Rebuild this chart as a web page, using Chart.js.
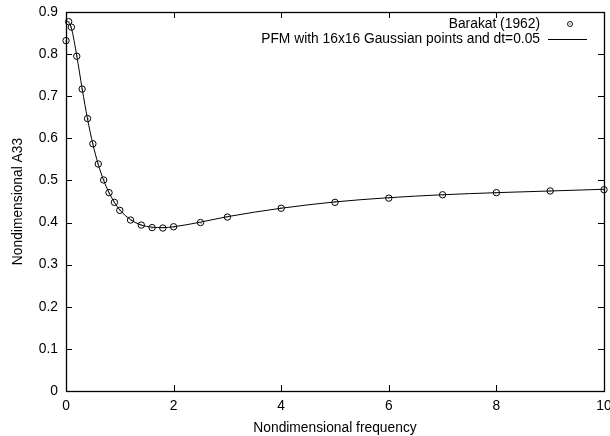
<!DOCTYPE html>
<html>
<head>
<meta charset="utf-8">
<script src="https://cdn.jsdelivr.net/npm/chart.js@4.4.1/dist/chart.umd.min.js"></script>
<style>
  html, body { margin: 0; padding: 0; background: #fff; }
  #wrap { width: 610px; height: 436px; }
</style>
</head>
<body>
<div id="wrap"><canvas id="c" width="610" height="436"></canvas></div>
<script>
// Barakat (1962) measured points
const barakatX = [0, 0.05, 0.1, 0.2, 0.3, 0.4, 0.5, 0.6, 0.7, 0.8, 0.9, 1.0, 1.2, 1.4, 1.6, 1.8, 2.0, 2.5, 3, 4, 5, 6, 7, 8, 9, 10];
const barakatY = [0.832, 0.877, 0.864, 0.795, 0.717, 0.647, 0.587, 0.539, 0.501, 0.471, 0.448, 0.429, 0.406, 0.394, 0.388, 0.387, 0.390, 0.400, 0.413, 0.434, 0.448, 0.458, 0.466, 0.471, 0.475, 0.478];
// PFM curve (16x16 Gaussian points, dt=0.05)
const pfmX = [0, 0.05, 0.1, 0.2, 0.3, 0.4, 0.5, 0.6, 0.7, 0.8, 0.9, 1.0, 1.2, 1.4, 1.6, 1.8, 2.0, 2.5, 3, 4, 5, 6, 7, 8, 9, 10];
const pfmY = [0.882, 0.875, 0.862, 0.796, 0.718, 0.646, 0.586, 0.538, 0.500, 0.471, 0.448, 0.430, 0.407, 0.394, 0.389, 0.388, 0.390, 0.401, 0.414, 0.434, 0.449, 0.459, 0.466, 0.471, 0.475, 0.479];
const xTicks = [0, 2, 4, 6, 8, 10];
const yTicks = [0, 0.1, 0.2, 0.3, 0.4, 0.5, 0.6, 0.7, 0.8, 0.9];
const seriesNames = ['Barakat (1962)', 'PFM with 16x16 Gaussian points and dt=0.05'];
const xTitle = 'Nondimensional frequency';
const yTitle = 'Nondimensional A33';

const FONT = 'Liberation Sans, Arial, Helvetica, sans-serif';
const FS = 13.8;

const framePlugin = {
  id: 'frame',
  afterDatasetsDraw(chart) {
    const ctx = chart.ctx;
    const a = chart.chartArea;
    const xs = chart.scales.x, ys = chart.scales.y;
    ctx.save();
    ctx.strokeStyle = '#000';
    ctx.lineWidth = 1;
    ctx.beginPath();
    const L = 6;
    xTicks.forEach(v => {
      const px = Math.round(xs.getPixelForValue(v)) + 0.5;
      ctx.moveTo(px, a.bottom); ctx.lineTo(px, a.bottom - L);
      ctx.moveTo(px, a.top); ctx.lineTo(px, a.top + L);
    });
    yTicks.forEach(v => {
      const py = Math.round(ys.getPixelForValue(v)) + 0.5;
      ctx.moveTo(a.left, py); ctx.lineTo(a.left + L, py);
      ctx.moveTo(a.right, py); ctx.lineTo(a.right - L, py);
    });
    ctx.stroke();
    ctx.lineWidth = 1.3;
    ctx.strokeRect(Math.round(a.left) + 0.5, Math.round(a.top) + 0.5,
                   Math.round(a.right - a.left), Math.round(a.bottom - a.top));
    // legend
    ctx.font = FS + 'px ' + FONT;
    ctx.fillStyle = '#000';
    ctx.textAlign = 'right';
    ctx.textBaseline = 'middle';
    const tx = a.right - 64;
    const y1 = a.top + 12, y2 = a.top + 27;
    ctx.fillText(seriesNames[0], tx, y1);
    ctx.fillText(seriesNames[1], tx, y2);
    ctx.lineWidth = 0.9;
    ctx.beginPath();
    ctx.arc(a.right - 34, y1, 2.5, 0, Math.PI * 2);
    ctx.stroke();
    ctx.fillRect(a.right - 34.5, y1 - 0.5, 1, 1);
    ctx.lineWidth = 1;
    ctx.beginPath();
    ctx.moveTo(a.right - 56, y2 + 0.5); ctx.lineTo(a.right - 17, y2 + 0.5);
    ctx.stroke();
    ctx.restore();
  }
};

const dotPlugin = {
  id: 'dots',
  afterDatasetsDraw(chart) {
    const ctx = chart.ctx;
    const meta = chart.getDatasetMeta(0);
    ctx.save();
    ctx.fillStyle = '#000';
    meta.data.forEach(p => { ctx.fillRect(Math.round(p.x) - 0.5, Math.round(p.y) - 0.5, 1, 1); });
    ctx.restore();
  }
};

new Chart(document.getElementById('c'), {
  type: 'scatter',
  data: {
    datasets: [
      {
        label: seriesNames[0],
        data: barakatX.map((x, i) => ({ x: x, y: barakatY[i] })),
        showLine: false,
        pointStyle: 'circle',
        pointRadius: 3.2,
        pointBorderWidth: 1,
        pointBorderColor: '#000',
        pointBackgroundColor: 'rgba(0,0,0,0)',
        clip: false,
        order: 0
      },
      {
        label: seriesNames[1],
        data: pfmX.map((x, i) => ({ x: x, y: pfmY[i] })),
        showLine: true,
        borderColor: '#000',
        borderWidth: 1,
        pointRadius: 0,
        cubicInterpolationMode: 'monotone',
        order: 1
      }
    ]
  },
  plugins: [framePlugin, dotPlugin],
  options: {
    responsive: false,
    animation: false,
    layout: { padding: { top: 12, right: 6, left: 0, bottom: 0 } },
    plugins: { legend: { display: false }, tooltip: { enabled: false } },
    scales: {
      x: {
        type: 'linear', min: 0, max: 10,
        afterBuildTicks: s => { s.ticks = xTicks.map(v => ({ value: v })); },
        afterFit: s => { s.height = 45; s.paddingLeft = 0; s.paddingRight = 0; },
        grid: { display: false, drawTicks: false },
        border: { display: false },
        ticks: { color: '#000', font: { family: FONT, size: FS }, padding: 7, maxRotation: 0, callback: v => String(v) },
        title: { display: true, text: xTitle, color: '#000', font: { family: FONT, size: FS }, padding: { top: 2, bottom: 0 } }
      },
      y: {
        type: 'linear', min: 0, max: 0.9,
        afterBuildTicks: s => { s.ticks = yTicks.map(v => ({ value: v })); },
        afterFit: s => { s.width = 66; s.paddingTop = 0; s.paddingBottom = 0; },
        grid: { display: false, drawTicks: false },
        border: { display: false },
        ticks: { color: '#000', font: { family: FONT, size: FS }, padding: 8, callback: v => (Math.round(v * 10) / 10).toString() },
        title: { display: true, text: yTitle, color: '#000', font: { family: FONT, size: FS }, padding: { top: 10, bottom: 0 } }
      }
    }
  }
});
</script>
</body>
</html>
